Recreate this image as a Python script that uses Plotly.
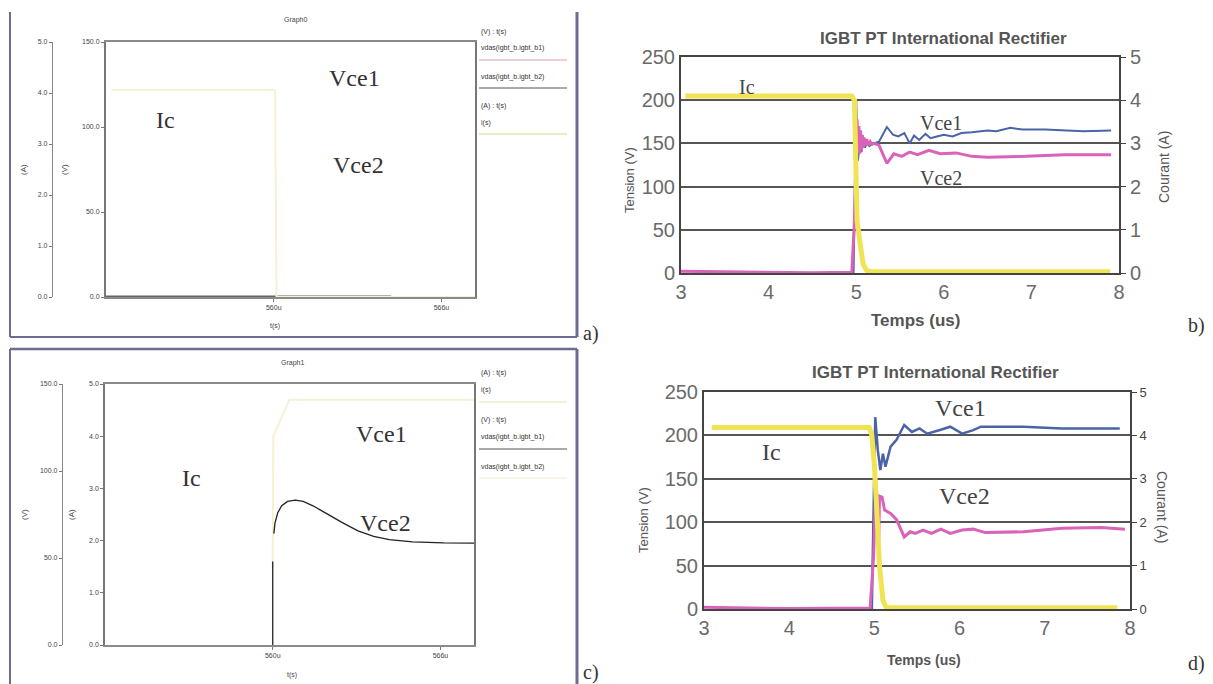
import plotly.graph_objects as go

W, H = 1213, 684


def X(p):
    return p / W


def Y(p):
    return 1 - p / H


# ---------------- data ----------------
# Panel a (simulation, turn-off) : time in us
a_t_ic = [554.2, 560.05, 560.1, 567.2]
a_ic = [4.06, 4.06, 0.0, 0.0]
a_t_vce = [554.0, 564.2]
a_vce = [0.4, 0.4]

# Panel c (simulation, turn-on)
c_t_vce2 = [560.0, 560.0, None, 560.04, 560.08, 560.18, 560.32, 560.53, 560.81, 561.09,
            561.44, 561.93, 562.49, 563.05, 563.61, 564.17, 565.0, 566.12, 567.28]
c_vce2 = [0, 48, None, 64, 70, 76, 80, 82.5, 83.2, 82.5,
          80, 75.5, 70.3, 65.6, 62.4, 60.5, 59.3, 58.7, 58.5]
c_t_ic = [560.0, 560.02, 560.6, 567.2]
c_ic = [1.5, 4.0, 4.7, 4.7]

# Panel b (measurement)
b_t_ic = [3.05, 4.95, 4.98, 5.01, 5.05, 5.08, 5.12, 5.17, 5.5, 6.5, 7.9]
b_ic = [4.1, 4.1, 4.0, 1.2, 0.6, 0.2, 0.06, 0.03, 0.03, 0.03, 0.03]
b_t_vce2 = [3.0, 3.5, 4.0, 4.5, 4.95, 4.98, 5.0, 5.01, 5.02, 5.03, 5.04, 5.05, 5.06, 5.07,
            5.08, 5.09, 5.10, 5.12, 5.14, 5.16, 5.18, 5.2, 5.26, 5.35, 5.43, 5.52, 5.61,
            5.70, 5.83, 5.96, 6.14, 6.32, 6.5, 6.94, 7.38, 7.91]
b_vce2 = [2, 1.5, 0.5, 0.3, 1, 60, 150, 178, 140, 170, 138, 165, 142, 160,
          145, 157, 147, 155, 148, 152, 149, 150, 148, 127, 138, 135, 140,
          137, 142, 138, 139, 135, 134, 135, 137, 137]
b_t_vce1 = [4.97, 5.0, 5.02, 5.04, 5.06, 5.08, 5.1, 5.12, 5.15, 5.2, 5.26, 5.35, 5.42,
            5.48, 5.55, 5.61, 5.66, 5.72, 5.79, 5.85, 5.92, 6.0, 6.1, 6.2, 6.32, 6.5,
            6.6, 6.76, 6.9, 7.16, 7.4, 7.6, 7.91]
b_vce1 = [0, 200, 130, 150, 140, 152, 145, 150, 147, 150, 152, 169, 160,
          158, 162, 150, 159, 154, 161, 156, 158, 160, 158, 162, 163, 165,
          164, 168, 166, 166, 165, 164, 165]

# Panel d (measurement)
d_t_ic = [3.09, 4.94, 4.97, 5.0, 5.03, 5.06, 5.10, 5.14, 6.0, 7.0, 7.85]
d_ic = [4.18, 4.18, 4.0, 3.3, 2.2, 1.0, 0.2, 0.03, 0.03, 0.03, 0.03]
d_t_vce1 = [4.97, 5.0, 5.01, 5.04, 5.07, 5.10, 5.13, 5.19, 5.26, 5.35, 5.44, 5.53, 5.62,
            5.76, 5.89, 6.03, 6.16, 6.25, 6.75, 7.20, 7.88]
d_vce1 = [0, 150, 221, 183, 160, 179, 164, 187, 195, 212, 204, 208, 202,
          206, 210, 202, 206, 210, 210, 208, 208]
d_t_vce2 = [2.99, 3.5, 4.0, 4.5, 4.95, 4.99, 5.01, 5.03, 5.05, 5.06, 5.09, 5.12, 5.19,
            5.26, 5.35, 5.42, 5.48, 5.57, 5.67, 5.78, 5.89, 6.03, 6.16, 6.30, 6.75,
            7.20, 7.66, 7.94]
d_vce2 = [2, 1, 0.5, 0.8, 1, 60, 120, 133, 76, 130, 129, 114, 110,
          103, 83, 89, 87, 91, 87, 92, 87, 91, 92, 88, 89,
          93, 94, 92]

# tick labels
sim_time_ticks = [560, 566]
sim_time_text = ["560u", "566u"]
amp_ticks = [0, 1, 2, 3, 4, 5]
amp_text_sim = ["0.0", "1.0", "2.0", "3.0", "4.0", "5.0"]
volt_ticks_sim = [0, 50, 100, 150]
volt_text_sim = ["0.0", "50.0", "100.0", "150.0"]
meas_time_ticks = [3, 4, 5, 6, 7, 8]
meas_volt_ticks = [0, 50, 100, 150, 200, 250]

# ---------------- colours ----------------
YEL = "#f0e455"
YEL_FAINT = "#f5f2d4"
MAG = "#d963b9"
BLU = "#4a64a6"
GRID = "#555555"
FRAME = "#6f6c92"

fig = go.Figure()

# Panel a traces
fig.add_trace(go.Scatter(x=a_t_ic, y=a_ic, xaxis="x", yaxis="y2", mode="lines",
                         line=dict(color=YEL_FAINT, width=2)))
fig.add_trace(go.Scatter(x=a_t_vce, y=a_vce, xaxis="x", yaxis="y", mode="lines",
                         line=dict(color="#666666", width=1.5)))
# Panel c traces
fig.add_trace(go.Scatter(x=c_t_ic, y=c_ic, xaxis="x2", yaxis="y3", mode="lines",
                         line=dict(color=YEL_FAINT, width=2)))
fig.add_trace(go.Scatter(x=c_t_vce2, y=c_vce2, xaxis="x2", yaxis="y4", mode="lines",
                         line=dict(color="#222222", width=1.3), connectgaps=False))
# Panel b traces
fig.add_trace(go.Scatter(x=b_t_ic, y=b_ic, xaxis="x3", yaxis="y6", mode="lines",
                         line=dict(color=YEL, width=5)))
fig.add_trace(go.Scatter(x=b_t_vce1, y=b_vce1, xaxis="x3", yaxis="y5", mode="lines",
                         line=dict(color=BLU, width=2)))
fig.add_trace(go.Scatter(x=b_t_vce2, y=b_vce2, xaxis="x3", yaxis="y5", mode="lines",
                         line=dict(color=MAG, width=3)))
# Panel d traces
fig.add_trace(go.Scatter(x=d_t_ic, y=d_ic, xaxis="x4", yaxis="y8", mode="lines",
                         line=dict(color=YEL, width=5)))
fig.add_trace(go.Scatter(x=d_t_vce1, y=d_vce1, xaxis="x4", yaxis="y7", mode="lines",
                         line=dict(color=BLU, width=2.5)))
fig.add_trace(go.Scatter(x=d_t_vce2, y=d_vce2, xaxis="x4", yaxis="y7", mode="lines",
                         line=dict(color=MAG, width=3)))

small_font = dict(family="Liberation Sans", size=7, color="#444444")
big_tick = dict(family="Liberation Sans", size=20, color="#6a6a6a")

layout = dict(
    width=W, height=H, margin=dict(l=0, r=0, t=0, b=0, pad=0, autoexpand=False),
    paper_bgcolor="white", plot_bgcolor="white", showlegend=False,
    # ---- panel a ----
    xaxis=dict(domain=[X(106), X(475)], range=[554, 567.2], anchor="y",
               tickvals=sim_time_ticks, ticktext=sim_time_text, tickfont=small_font,
               ticks="outside", ticklen=3, tickcolor="#777", showline=True,
               linecolor="#8a8a8a", linewidth=1.5, mirror=True, showgrid=False,
               zeroline=False, automargin=False),
    yaxis=dict(domain=[Y(297), Y(42)], range=[0, 150], anchor="x",
               tickvals=volt_ticks_sim, ticktext=volt_text_sim, tickfont=small_font,
               ticks="outside", ticklen=3, tickcolor="#777", showline=True,
               linecolor="#777777", linewidth=2, mirror=True, showgrid=False,
               zeroline=False, automargin=False),
    yaxis2=dict(overlaying="y", anchor="free", position=X(52), side="left",
                range=[0, 5], tickvals=amp_ticks, ticktext=amp_text_sim,
                tickfont=small_font, ticks="outside", ticklen=3, tickcolor="#777",
                showline=True, linecolor="#888888", linewidth=1.2, showgrid=False,
                zeroline=False, automargin=False),
    # ---- panel c ----
    xaxis2=dict(domain=[X(105), X(474)], range=[554, 567.2], anchor="y3",
                tickvals=sim_time_ticks, ticktext=sim_time_text, tickfont=small_font,
                ticks="outside", ticklen=3, tickcolor="#777", showline=True,
                linecolor="#8a8a8a", linewidth=1.5, mirror=True, showgrid=False,
                zeroline=False, automargin=False),
    yaxis3=dict(domain=[Y(645), Y(384)], range=[0, 5], anchor="x2",
                tickvals=amp_ticks, ticktext=amp_text_sim, tickfont=small_font,
                ticks="outside", ticklen=3, tickcolor="#777", showline=True,
                linecolor="#777777", linewidth=1.5, mirror=True, showgrid=False,
                zeroline=False, automargin=False),
    yaxis4=dict(overlaying="y3", anchor="free", position=X(62), side="left",
                range=[0, 150], tickvals=volt_ticks_sim, ticktext=volt_text_sim,
                tickfont=small_font, ticks="outside", ticklen=3, tickcolor="#777",
                showline=True, linecolor="#888888", linewidth=1.2, showgrid=False,
                zeroline=False, automargin=False),
    # ---- panel b ----
    xaxis3=dict(domain=[X(681), X(1119)], range=[3, 8], anchor="y5",
                tickvals=meas_time_ticks, tickfont=big_tick, ticks="",
                showline=True, linecolor="#444444", linewidth=2, mirror=True,
                showgrid=False, zeroline=False, automargin=False),
    yaxis5=dict(domain=[Y(273), Y(57)], range=[0, 250], anchor="x3",
                tickvals=meas_volt_ticks, tickfont=big_tick, ticks="",
                showline=True, linecolor="#444444", linewidth=2,
                showgrid=True, gridcolor=GRID, gridwidth=1.6, zeroline=False,
                automargin=False),
    yaxis6=dict(overlaying="y5", anchor="x3", side="right", range=[0, 5],
                tickvals=amp_ticks, tickfont=big_tick, ticks="outside", ticklen=5,
                tickcolor="#444", showline=True, linecolor="#444444", linewidth=2,
                showgrid=False, zeroline=False, automargin=False),
    # ---- panel d ----
    xaxis4=dict(domain=[X(704), X(1130)], range=[3, 8], anchor="y7",
                tickvals=meas_time_ticks, tickfont=big_tick, ticks="",
                showline=True, linecolor="#444444", linewidth=2, mirror=True,
                showgrid=False, zeroline=False, automargin=False),
    yaxis7=dict(domain=[Y(609), Y(392)], range=[0, 250], anchor="x4",
                tickvals=meas_volt_ticks, tickfont=big_tick, ticks="",
                showline=True, linecolor="#444444", linewidth=2,
                showgrid=True, gridcolor=GRID, gridwidth=1.6, zeroline=False,
                automargin=False),
    yaxis8=dict(overlaying="y7", anchor="x4", side="right", range=[0, 5],
                tickvals=amp_ticks,
                tickfont=dict(family="Liberation Sans", size=13, color="#444444"),
                ticks="outside", ticklen=5, tickcolor="#444", showline=True,
                linecolor="#444444", linewidth=2, showgrid=False, zeroline=False,
                automargin=False),
)

annotations = []


def ann(text, x, y, size, color="#333333", family="Liberation Sans", angle=0,
        xanchor="center", yanchor="middle"):
    annotations.append(dict(text=text, x=X(x), y=Y(y), xref="paper", yref="paper",
                            showarrow=False, textangle=angle, xanchor=xanchor,
                            yanchor=yanchor,
                            font=dict(family=family, size=size, color=color)))


SERIF = "Liberation Serif"

# panel a texts
ann("Graph0", 295, 20, 7, "#444")
ann("(V) : t(s)", 479, 32, 7, "#333", xanchor="left")
ann("vdas(igbt_b.igbt_b1)", 479, 48, 7, "#333", xanchor="left")
ann("vdas(igbt_b.igbt_b2)", 479, 77, 7, "#333", xanchor="left")
ann("(A) : t(s)", 479, 106, 7, "#333", xanchor="left")
ann("i(s)", 479, 123, 7, "#333", xanchor="left")
ann("(A)", 24, 170, 8, "#444", angle=-90)
ann("(V)", 65, 170, 8, "#444", angle=-90)
ann("t(s)", 275, 326, 7, "#444")
ann("Ic", 165, 120, 24, "#333", SERIF)
ann("Vce1", 354, 78, 24, "#333", SERIF)
ann("Vce2", 359, 165, 24, "#333", SERIF)
ann("a)", 591, 333, 20, "#333", SERIF)

# panel c texts
ann("Graph1", 292, 363, 7, "#444")
ann("(A) : t(s)", 479, 373, 7, "#333", xanchor="left")
ann("i(s)", 479, 390, 7, "#333", xanchor="left")
ann("(V) : t(s)", 479, 420, 7, "#333", xanchor="left")
ann("vdas(igbt_b.igbt_b1)", 479, 437, 7, "#333", xanchor="left")
ann("vdas(igbt_b.igbt_b2)", 479, 467, 7, "#333", xanchor="left")
ann("(V)", 24, 515, 8, "#444", angle=-90)
ann("(A)", 71, 515, 8, "#444", angle=-90)
ann("t(s)", 292, 675, 7, "#444")
ann("Ic", 191, 478, 24, "#333", SERIF)
ann("Vce1", 381, 434, 24, "#333", SERIF)
ann("Vce2", 385, 523, 24, "#333", SERIF)
ann("c)", 591, 672, 20, "#333", SERIF)

# panel b texts
ann("<b>IGBT PT International Rectifier</b>", 943, 38, 17, "#555555")
ann("<b>Temps (us)</b>", 916, 320, 17, "#555555")
ann("Tension (V)", 630, 180, 13, "#555555", angle=-90)
ann("Courant (A)", 1164, 167, 14, "#555555", angle=-90)
ann("Ic", 747, 87, 20, "#444", SERIF)
ann("Vce1", 941, 123, 20, "#444", SERIF)
ann("Vce2", 941, 178, 20, "#444", SERIF)
ann("b)", 1196, 325, 20, "#333", SERIF)

# panel d texts
ann("<b>IGBT PT International Rectifier</b>", 935, 373, 17, "#555555")
ann("<b>Temps (us)</b>", 924, 660, 14, "#555555")
ann("Tension (V)", 643, 520, 13, "#555555", angle=-90)
ann("Courant (A)", 1162, 507, 14, "#555555", angle=90)
ann("Vce1", 960, 408, 24, "#444", SERIF)
ann("Ic", 771, 452, 24, "#444", SERIF)
ann("Vce2", 964, 496, 24, "#444", SERIF)
ann("d)", 1196, 663, 20, "#333", SERIF)

layout["annotations"] = annotations


def line_shape(x0, y0, x1, y1, color, width):
    return dict(type="line", xref="paper", yref="paper", x0=X(x0), y0=Y(y0),
                x1=X(x1), y1=Y(y1), line=dict(color=color, width=width))


shapes = [
    # panel a frame
    line_shape(10, 12, 10, 337, FRAME, 2),
    line_shape(10, 337, 577, 337, FRAME, 2),
    line_shape(577, 12, 577, 337, FRAME, 3),
    # panel c frame
    line_shape(10, 349, 577, 349, FRAME, 2.5),
    line_shape(10, 349, 10, 684, FRAME, 2),
    line_shape(577, 349, 577, 684, FRAME, 3),
    # legend separators a
    line_shape(479, 60, 567, 60, "#dba3a3", 1),
    line_shape(479, 88, 567, 88, "#555555", 1.2),
    line_shape(479, 134, 567, 134, "#d8d48e", 1.2),
    # legend separators c
    line_shape(479, 402, 567, 402, "#e6e2b8", 1),
    line_shape(479, 449, 567, 449, "#555555", 1.2),
    line_shape(479, 478, 567, 478, "#eeeacc", 1),
]
layout["shapes"] = shapes

fig.update_layout(**layout)
fig.write_html(
    "out.html",
    config={"displayModeBar": False},
    post_script="document.body.style.margin='0px';document.body.style.overflow='hidden';",
)
